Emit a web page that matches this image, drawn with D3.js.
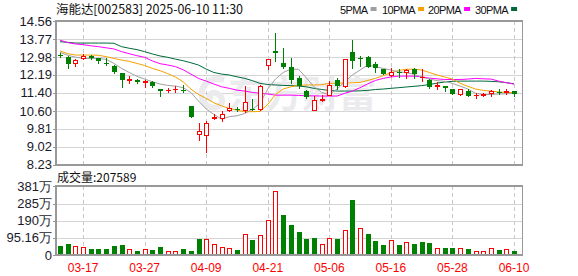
<!DOCTYPE html>
<html><head><meta charset="utf-8">
<script src="https://cdn.jsdelivr.net/npm/d3@7"></script>
<style>
html,body{margin:0;padding:0;background:#fff;}
svg{display:block;}
</style></head>
<body>
<svg id="c" width="578" height="276"></svg>
<script>
// ---------- data ----------
const dates = ["03-12","03-13","03-14","03-17","03-18","03-19","03-20","03-21","03-24","03-25",
"03-26","03-27","03-28","03-31","04-01","04-02","04-03","04-07","04-08","04-09",
"04-10","04-11","04-14","04-15","04-16","04-17","04-18","04-21","04-22","04-23",
"04-24","04-25","04-28","04-29","04-30","05-06","05-07","05-08","05-09","05-12",
"05-13","05-14","05-15","05-16","05-19","05-20","05-21","05-22","05-23","05-26",
"05-27","05-28","05-29","05-30","06-03","06-04","06-05","06-06","06-09","06-10"];
const open  = [13.08,12.98,12.73,12.94,13.04,12.94,12.73,12.58,12.26,11.99,
11.98,11.87,11.89,11.57,11.51,11.55,11.54,10.82,9.58,9.52,
10.27,10.27,10.64,10.71,10.64,10.71,10.67,12.63,13.26,12.70,
12.56,12.05,11.47,10.64,11.08,11.30,11.95,11.69,13.20,12.94,
12.98,12.69,12.45,12.19,12.33,12.32,12.45,12.08,11.97,11.69,
11.71,11.57,11.33,11.48,11.29,11.30,11.38,11.45,11.44,11.47];
const high  = [13.14,13.01,12.91,13.11,13.07,12.95,12.95,12.63,12.27,12.13,
12.02,11.99,11.94,11.57,11.61,11.69,11.76,10.82,10.07,10.15,
10.49,10.60,10.95,10.76,11.72,11.11,11.75,12.89,14.04,13.37,
12.95,12.13,11.54,11.26,11.30,11.92,12.04,12.91,13.75,13.04,
13.04,12.76,12.45,12.51,12.44,12.44,12.48,12.45,12.01,11.89,
11.72,11.57,11.58,11.57,11.39,11.41,11.51,11.55,11.55,11.47];
const low   = [12.99,12.51,12.60,12.91,12.91,12.73,12.63,12.29,11.67,11.83,
11.85,11.67,11.66,11.27,11.44,11.44,11.42,10.34,9.33,8.77,
10.26,10.18,10.61,10.60,10.57,10.65,10.64,12.44,12.82,12.51,
11.85,11.60,11.19,10.63,11.05,11.29,11.58,11.66,12.48,12.58,
12.53,12.33,12.23,12.14,12.10,12.07,12.07,11.92,11.61,11.55,
11.50,11.36,11.32,11.26,11.16,11.26,11.26,11.37,11.33,11.26];
const close = [13.05,12.69,12.83,13.04,12.95,12.79,12.66,12.33,11.98,12.02,
11.89,11.91,11.72,11.49,11.54,11.58,11.49,10.34,9.71,10.08,
10.33,10.45,10.73,10.68,10.98,10.67,11.72,12.89,13.14,12.56,
11.99,11.69,11.21,11.07,11.11,11.74,11.72,12.89,12.82,12.91,
12.55,12.51,12.23,12.33,12.27,12.42,12.25,12.12,11.64,11.77,
11.60,11.36,11.57,11.27,11.32,11.34,11.47,11.42,11.47,11.33];
const prevClose = 13.10; // close before the first visible day
// volume in 万 (10k)
const volume = [50,61,48,43,33,33,33,50,55,31,
22,31,28,44,20,20,33,22,89,89,
61,43,39,28,117,83,111,192,353,222,
166,128,89,94,59,92,89,137,305,148,
117,78,55,81,55,70,61,72,67,37,
39,39,37,33,20,20,37,28,31,20.76];
const ma5  = [13.19,13.06,12.98,12.92,12.92,12.92,12.88,12.70,12.48,12.30,
12.13,12.01,11.89,11.79,11.73,11.70,11.63,11.42,11.04,10.69,
10.45,10.24,10.35,10.39,10.49,10.67,10.94,11.57,12.01,12.30,
12.45,12.44,12.07,11.67,11.42,11.33,11.57,11.89,12.19,12.41,
12.63,12.56,12.48,12.41,12.33,12.29,12.22,12.10,12.01,11.94,
11.91,11.82,11.70,11.57,11.38,11.33,11.33,11.35,11.36,11.38];
const ma10 = [13.25,13.13,13.07,13.07,13.07,13.06,13.00,12.92,12.85,12.79,
12.70,12.61,12.48,12.38,12.25,12.10,11.89,11.57,11.33,11.16,
10.96,10.83,10.71,10.64,10.57,10.57,10.58,10.89,11.33,11.57,
11.67,11.73,11.75,11.75,11.76,11.82,11.83,11.83,11.85,11.86,
11.95,12.04,12.16,12.29,12.39,12.44,12.45,12.41,12.30,12.19,
12.10,12.01,11.82,11.69,11.57,11.51,11.48,11.44,11.42,11.41];
const ma20 = [13.73,13.62,13.56,13.53,13.48,13.44,13.39,13.34,13.22,13.13,
13.04,12.97,12.81,12.69,12.63,12.56,12.42,12.23,12.04,11.92,
11.79,11.67,11.60,11.52,11.48,11.42,11.38,11.35,11.30,11.30,
11.30,11.29,11.27,11.27,11.26,11.26,11.26,11.38,11.48,11.63,
11.80,11.95,12.04,12.10,12.14,12.14,12.14,12.11,12.05,12.02,
11.99,11.99,11.99,12.01,12.04,12.02,12.01,11.92,11.85,11.79];
const ma30 = [13.66,13.63,13.60,13.60,13.60,13.60,13.60,13.59,13.44,13.37,
13.31,13.22,13.12,13.03,12.97,12.89,12.82,12.73,12.63,12.45,
12.30,12.23,12.19,12.11,12.04,11.94,11.82,11.77,11.75,11.73,
11.72,11.70,11.67,11.60,11.55,11.51,11.48,11.48,11.48,11.49,
11.51,11.55,11.57,11.60,11.63,11.66,11.69,11.72,11.77,11.83,
11.88,11.91,11.92,11.92,11.92,11.92,11.91,11.89,11.85,11.80];
const priceTicks = ["8.23","9.02","9.81","10.60","11.40","12.19","12.98","13.77","14.56"];
const volTickValues = [0,95.16,190,285,381];
const volTickLabels = ["0","95.16万","190万","285万","381万"];
const dateTicks = ["03-17","03-27","04-09","04-21","05-06","05-16","05-28","06-10"];
const maNames = ["5PMA","10PMA","20PMA","30PMA"];
const maColors = ["#a0a0a0","#f5a200","#ff00ff","#00693a"];
const titleText = "海能达[002583] 2025-06-10 11:30";
const volTitle = "成交量:207589";

// ---------- layout ----------
const L = 56, R = 522.5;
const pTop = 21.3, pBot = 164.7;
const vTop = 186.3, vBot = 255;
const UP = "#ff0000", DN = "#008000", GRID = "#d4d4d4", FRAME = "#999";

const svg = d3.select("#c");
svg.append("rect").attr("width",578).attr("height",276).attr("fill","#fff");

const x = d3.scaleLinear().domain([0, dates.length-1]).range([60, 514]);
const y = d3.scaleLinear().domain([8.23, 14.56]).range([pBot, pTop]);
const yv = d3.scaleLinear().domain([0, 381]).range([vBot, vTop]);
const px = i => Math.round(x(i)) + 0.5;

// gridlines
const g = svg.append("g").attr("shape-rendering","crispEdges");
priceTicks.slice(1,-1).forEach(t=>{
  const yy = Math.round(y(+t))+0.5;
  g.append("line").attr("x1",L).attr("x2",R).attr("y1",yy).attr("y2",yy).attr("stroke",GRID);
});
volTickValues.slice(1,-1).forEach(v=>{
  const yy = Math.round(yv(v))+0.5;
  g.append("line").attr("x1",L).attr("x2",R).attr("y1",yy).attr("y2",yy).attr("stroke",GRID);
});
dateTicks.forEach(d=>{
  const i = dates.indexOf(d); const xx = px(i);
  g.append("line").attr("x1",xx).attr("x2",xx).attr("y1",pTop).attr("y2",pBot)
    .attr("stroke","#c8c8c8").attr("stroke-dasharray","4,3");
  g.append("line").attr("x1",xx).attr("x2",xx).attr("y1",vTop).attr("y2",vBot)
    .attr("stroke","#c8c8c8").attr("stroke-dasharray","4,3");
});

// watermark
const wm = svg.append("g").attr("fill","#ebebee");
wm.append("path").attr("d","M224 80 C204 74,194 96,208 106 C218 112,228 100,218 94 C212 90,206 96,212 100")
  .attr("fill","none").attr("stroke","#ebebee").attr("stroke-width",6);
wm.append("text").attr("x",228).attr("y",108).attr("font-size",37).attr("font-weight","bold")
  .attr("font-family","'Noto Sans CJK SC'").text("东方财富");

// MA lines
const mas = [ma5, ma10, ma20, ma30];
mas.slice().reverse().forEach((arr, k)=>{
  const idx = 3-k;
  const line = d3.line().x((d,i)=>x(i)).y(d=>y(d));
  svg.append("path").attr("d", line(arr)).attr("fill","none")
    .attr("stroke", maColors[idx]).attr("stroke-width",1);
});

// candles
const cg = svg.append("g").attr("shape-rendering","crispEdges");
dates.forEach((d,i)=>{
  const o=open[i], c=close[i], h=high[i], l=low[i];
  const up = c >= o;
  const col = up ? UP : DN;
  const xx = px(i);
  cg.append("line").attr("x1",xx).attr("x2",xx).attr("y1",Math.round(y(h))).attr("y2",Math.round(y(l))+1)
    .attr("stroke",col);
  const yt = Math.round(y(Math.max(o,c))), yb = Math.round(y(Math.min(o,c)));
  if (yb - yt < 1) {
    cg.append("line").attr("x1",xx-2.5).attr("x2",xx+2.5).attr("y1",yt+0.5).attr("y2",yt+0.5).attr("stroke",col);
  } else if (up) {
    cg.append("rect").attr("x",xx-2).attr("y",yt+0.5).attr("width",4).attr("height",yb-yt)
      .attr("fill","#fff").attr("stroke",col);
  } else {
    cg.append("rect").attr("x",xx-2.5).attr("y",yt).attr("width",5).attr("height",Math.max(1,yb-yt))
      .attr("fill",col);
  }
});

// volume bars (colour by change vs previous close)
const vg = svg.append("g").attr("shape-rendering","crispEdges");
volume.forEach((v,i)=>{
  const pc = i===0 ? prevClose : close[i-1];
  const up = close[i] > pc;
  const xx = px(i);
  const yt = Math.round(yv(v));
  if (up) {
    vg.append("rect").attr("x",xx-2).attr("y",yt+0.5).attr("width",4).attr("height",vBot-yt-1)
      .attr("fill","#fff").attr("stroke",UP);
  } else {
    vg.append("rect").attr("x",xx-2.5).attr("y",yt).attr("width",5).attr("height",vBot-yt)
      .attr("fill",DN);
  }
});

// frames
const fg = svg.append("g").attr("shape-rendering","crispEdges");
fg.append("rect").attr("x",L).attr("y",Math.round(pTop)).attr("width",R-L).attr("height",Math.round(pBot)-Math.round(pTop))
  .attr("fill","none").attr("stroke",FRAME).attr("stroke-width",1.5);
fg.append("rect").attr("x",L).attr("y",Math.round(vTop)).attr("width",R-L).attr("height",Math.round(vBot)-Math.round(vTop))
  .attr("fill","none").attr("stroke",FRAME).attr("stroke-width",1.5);

// y axes
const axFont = "'Liberation Sans', Arial, sans-serif";
priceTicks.forEach(t=>{
  const yy = y(+t);
  fg.append("line").attr("x1",52.5).attr("x2",L).attr("y1",Math.round(yy)+0.5).attr("y2",Math.round(yy)+0.5).attr("stroke",FRAME);
  svg.append("text").attr("x",52).attr("y",yy+4.5).attr("text-anchor","end")
    .attr("font-family",axFont).attr("font-size",13).attr("fill","#1a1a2a").text(t);
});
volTickValues.forEach((v,k)=>{
  const yy = yv(v);
  fg.append("line").attr("x1",52.5).attr("x2",L).attr("y1",Math.round(yy)+0.5).attr("y2",Math.round(yy)+0.5).attr("stroke",FRAME);
  svg.append("text").attr("x",52).attr("y",yy+4.5).attr("text-anchor","end")
    .attr("font-family",axFont).attr("font-size",13).attr("fill","#1a1a2a").text(volTickLabels[k]);
});

// x labels
dateTicks.forEach(d=>{
  svg.append("text").attr("x",x(dates.indexOf(d))).attr("y",272).attr("text-anchor","middle")
    .attr("font-family",axFont).attr("font-size",12).attr("fill","#ff0000").text(d);
});

// titles
svg.append("text").attr("x",56).attr("y",14).attr("font-family","'Noto Sans CJK SC', sans-serif")
  .attr("font-size",12.5).attr("fill","#111").attr("textLength",187).attr("lengthAdjust","spacing").text(titleText);
svg.append("text").attr("x",57).attr("y",182).attr("font-family","'Noto Sans CJK SC', sans-serif")
  .attr("font-size",12).attr("fill","#111").text(volTitle);

// legend
const legX = [340, 382, 428, 475];
maNames.forEach((n,k)=>{
  const t = svg.append("text").attr("x",legX[k]).attr("y",14).attr("font-family",axFont)
    .attr("font-size",11).attr("letter-spacing",-0.6).attr("fill","#111").text(n);
  const w = t.node().getComputedTextLength();
  svg.append("rect").attr("x",legX[k]+w+3).attr("y",7).attr("width",6).attr("height",4).attr("fill",maColors[k]);
});
</script>
</body></html>
